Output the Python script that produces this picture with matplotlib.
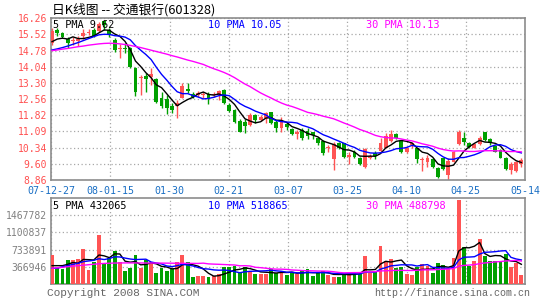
import numpy as np
import pandas as pd
import matplotlib
matplotlib.use("Agg")
import matplotlib.pyplot as plt

# ---------------- data ----------------
date_labels = ["07-12-27", "08-01-15", "01-30", "02-21", "03-07",
               "03-25", "04-10", "04-25", "05-14"]

opens = [15.12,15.73,15.57,15.30,15.24,15.24,15.45,15.57,15.73,15.68,
         16.14,15.73,15.27,14.86,14.92,14.89,13.97,13.51,13.64,13.57,
         13.48,12.63,12.57,12.26,12.26,12.63,13.03,12.81,12.75,12.75,
         12.78,12.74,12.75,12.98,12.29,12.06,11.56,11.50,11.38,11.84,
         11.61,11.68,11.96,11.50,11.26,11.41,11.19,10.95,11.15,11.10,
         11.04,10.80,10.65,10.31,9.82,10.54,10.54,9.93,10.16,9.85,
         9.47,9.88,10.08,10.19,10.34,10.65,10.95,10.65,10.13,10.46,
         10.31,9.78,9.70,9.82,9.39,9.85,9.09,9.70,10.49,10.80,
         10.54,10.34,10.49,11.04,10.74,10.42,10.23,9.88,9.32,9.27,
         9.58]
closes = [15.70,15.57,15.39,15.12,15.28,15.30,15.57,15.65,15.47,15.99,
          15.95,15.50,14.81,14.92,14.84,14.05,12.90,13.57,13.48,13.70,
          12.42,12.26,12.17,12.06,12.37,13.18,12.93,12.67,12.84,12.81,
          12.63,12.78,12.93,12.37,12.02,11.50,11.07,11.35,11.84,11.61,
          11.76,11.91,11.45,11.26,11.56,11.30,10.95,11.04,10.77,10.89,
          10.92,10.54,10.08,10.37,10.51,10.34,9.93,10.00,9.93,9.58,
          10.28,9.97,9.97,10.54,10.89,10.95,10.80,10.16,10.34,10.54,
          9.81,9.82,9.88,9.47,9.01,9.36,9.73,10.13,11.07,10.61,
          10.39,10.49,10.80,10.69,10.54,10.16,9.88,9.36,9.61,9.70,
          9.76]
highs = [15.80,15.80,15.65,15.39,15.42,15.45,15.76,15.77,15.80,16.08,
         16.18,15.80,15.35,15.07,15.12,14.96,14.05,13.67,13.74,13.97,
         13.54,12.90,12.75,12.37,12.52,13.28,13.28,12.90,12.93,12.90,
         12.87,12.90,12.98,13.03,12.37,12.11,11.65,11.65,11.91,11.87,
         11.84,11.96,11.99,11.61,11.76,11.53,11.26,11.15,11.26,11.23,
         11.07,10.84,10.69,10.46,10.61,10.58,10.57,10.16,10.23,9.93,
         10.31,10.04,10.19,10.77,11.00,11.15,11.00,10.69,10.39,10.61,
         10.34,9.93,10.00,9.85,9.47,9.88,9.85,10.19,11.15,11.04,
         10.61,10.54,10.86,11.07,10.80,10.46,10.26,9.93,9.70,9.73,
         9.85]
lows = [15.04,15.47,15.35,14.89,15.04,14.99,15.30,15.50,15.42,15.65,
        15.73,15.42,14.73,14.43,14.66,14.00,12.72,12.75,12.90,13.21,
        12.37,12.14,11.87,11.91,11.68,12.60,12.83,12.63,12.67,12.60,
        12.32,12.67,12.52,12.32,11.99,11.45,11.04,11.00,11.35,11.45,
        11.56,11.45,11.41,11.07,11.07,11.15,10.92,10.74,10.69,10.74,
        10.74,10.46,10.00,10.16,9.32,10.28,9.88,9.58,9.85,9.55,
        9.43,9.82,9.82,10.16,10.31,10.61,10.74,10.08,10.10,10.31,
        9.62,9.27,9.47,9.39,8.94,9.32,8.86,9.67,10.46,10.46,
        10.31,10.31,10.46,10.65,10.46,10.13,9.85,9.32,9.12,9.24,
        9.47]
volumes = [621000,339000,325000,515000,515000,536000,741000,303000,480000,1044000,
           445000,550000,706000,466000,282000,339000,621000,353000,515000,445000,
           233000,353000,282000,325000,480000,621000,480000,162000,183000,183000,
           162000,176000,212000,360000,374000,395000,247000,360000,282000,212000,
           212000,212000,325000,233000,282000,198000,247000,212000,282000,318000,
           176000,233000,282000,198000,162000,162000,247000,247000,233000,212000,
           607000,233000,282000,819000,494000,529000,353000,374000,212000,198000,
           374000,423000,395000,233000,445000,409000,325000,565000,1785000,797000,
           395000,494000,960000,607000,494000,494000,466000,635000,374000,445000,
           198000]

ma5_head = [15.19, 15.31, 15.35, 15.31]
ma10_head = [14.81, 14.86, 14.92, 14.99, 15.07, 15.15, 15.24, 15.33, 15.42]
ma30_head = [14.78, 14.81, 14.85, 14.88, 14.92, 14.96, 14.99, 15.03, 15.06, 15.09,
             15.11, 15.12, 15.11, 15.09, 15.06, 15.02, 14.97, 14.92, 14.86, 14.80,
             14.74, 14.68, 14.62, 14.55, 14.49, 14.42, 14.35, 14.29, 14.22]
vma5_head = [395000, 395000, 395000, 423000]
vma10_head = [339000, 339000, 374000, 395000, 423000, 445000, 480000, 494000, 508000]
vma30_head = [339000, 350000, 360000, 372000, 385000, 395000, 405000, 415000, 425000, 435000,
              442000, 447000, 450000, 452000, 453000, 453000, 452000, 452000, 451000, 450000,
              450000, 449000, 448000, 447000, 446000, 445000, 444000, 443000, 442000]

price_ticks = [8.86, 9.60, 10.34, 11.08, 11.82, 12.56, 13.30, 14.04, 14.78, 15.52, 16.26]
price_tick_labels = ["8.86", "9.60", "10.34", "11.09", "11.82", "12.56",
                     "13.30", "14.04", "14.78", "15.52", "16.26"]
vol_ticks = [366946, 733891, 1100837, 1467782]
vol_tick_labels = ["366946", "733891", "1100837", "1467782"]
vol_top = 1834728

legend_price = ["5 PMA 9.62", "10 PMA 10.05", "30 PMA 10.13"]
legend_vol = ["5 PMA 432065", "10 PMA 518865", "30 PMA 488798"]
title = "日K线图 -- 交通银行(601328)"


def moving(values, n, head):
    s = pd.Series(values, dtype=float).rolling(n).mean().to_numpy()
    s[:n - 1] = head
    return s


ma5 = moving(closes, 5, ma5_head)
ma10 = moving(closes, 10, ma10_head)
ma30 = moving(closes, 30, ma30_head)
vma5 = moving(volumes, 5, vma5_head)
vma10 = moving(volumes, 10, vma10_head)
vma30 = moving(volumes, 30, vma30_head)

# ---------------- style ----------------
RED = "#ff5454"
GREEN = "#00a000"
GRID = "#a8a8a8"
SPINE = "#8c8c8c"
MONO = "DejaVu Sans Mono"

W, H = 545, 300
fig = plt.figure(figsize=(W / 100, H / 100), dpi=100)
fig.patch.set_facecolor("white")


def ax_rect(l, t, r, b):
    return [l / W, (H - b) / H, (r - l) / W, (b - t) / H]


ax = fig.add_axes(ax_rect(51, 18.3, 525, 180))
axv = fig.add_axes(ax_rect(51, 197.7, 525, 284.3), sharex=ax)

n = len(closes)
x = np.arange(n)
o = np.array(opens)
c = np.array(closes)
hi = np.array(highs)
lo = np.array(lows)
up = c >= o
cols = np.where(up, RED, GREEN)

xmin, xmax = -0.2, n - 1 + 0.7
divs = np.linspace(xmin, xmax, 9)

# candles
ax.vlines(x, lo, hi, colors=cols, linewidth=1, zorder=2)
body_bottom = np.minimum(o, c)
body_h = np.maximum(np.abs(c - o), 0.025)
ax.bar(x, body_h, bottom=body_bottom, width=0.74, color=cols, linewidth=0, zorder=3)
ax.plot(x, ma5, color="black", lw=1.0, zorder=4)
ax.plot(x, ma10, color="#0000ff", lw=1.0, zorder=4)
ax.plot(x, ma30, color="#ff00ff", lw=1.0, zorder=4)

ax.set_xlim(xmin, xmax)
ax.set_ylim(8.86, 16.26)
ax.set_yticks(price_ticks)
ax.set_yticklabels(price_tick_labels)
ax.set_xticks(divs)
ax.set_xticklabels(date_labels)

# volume
axv.bar(x, volumes, width=0.74, color=cols, linewidth=0, zorder=3)
axv.plot(x, vma5, color="black", lw=1.0, zorder=4)
axv.plot(x, vma10, color="#0000ff", lw=1.0, zorder=4)
axv.plot(x, vma30, color="#ff00ff", lw=1.0, zorder=4)
axv.set_ylim(0, vol_top)
axv.set_yticks(vol_ticks)
axv.set_yticklabels(vol_tick_labels)

for a in (ax, axv):
    for s in a.spines.values():
        s.set_color(SPINE)
        s.set_linewidth(1.2)
    a.grid(True, color=GRID, linestyle=(0, (1, 2)), linewidth=0.9, zorder=0)
    a.set_axisbelow(True)
    a.tick_params(length=0, pad=3)
    for lab in a.get_yticklabels():
        lab.set_fontfamily(MONO)
        lab.set_fontsize(7)

for lab in ax.get_yticklabels():
    lab.set_color("#ff5050")
for lab in axv.get_yticklabels():
    lab.set_color("#808080")
for lab in ax.get_xticklabels():
    lab.set_fontfamily(MONO)
    lab.set_fontsize(7.2)
    lab.set_color("#1a6fc4")
ax.tick_params(axis="x", pad=4)
axv.tick_params(axis="x", labelbottom=False)

# legends inside panels
leg_x = [(53 - 51) / 474, (208 - 51) / 474, (366 - 51) / 474]
leg_c = ["black", "#0000ff", "#ff00ff"]
for xx, t, cc in zip(leg_x, legend_price, leg_c):
    ax.text(xx, 1 - 1.5 / 161.7, t, transform=ax.transAxes, va="top", ha="left",
            fontsize=7.4, family=MONO, color=cc, zorder=6)
for xx, t, cc in zip(leg_x, legend_vol, leg_c):
    axv.text(xx, 1 - 3 / 86.6, t, transform=axv.transAxes, va="top", ha="left",
             fontsize=7.4, family=MONO, color=cc, zorder=6)

fig.text(52 / W, 1 - 10 / H, title, ha="left", va="center", fontsize=9.2,
         family=["Noto Sans CJK SC", "DejaVu Sans"], color="black")
fig.text(47 / W, 1 - 293 / H, "Copyright 2008 SINA.COM", ha="left", va="center",
         fontsize=8, family="Liberation Mono", color="#666666")
fig.text(530 / W, 1 - 293 / H, "http://finance.sina.com.cn", ha="right", va="center",
         fontsize=7.2, family="Liberation Mono", color="#666666")

fig.savefig("out.png", dpi=100)
